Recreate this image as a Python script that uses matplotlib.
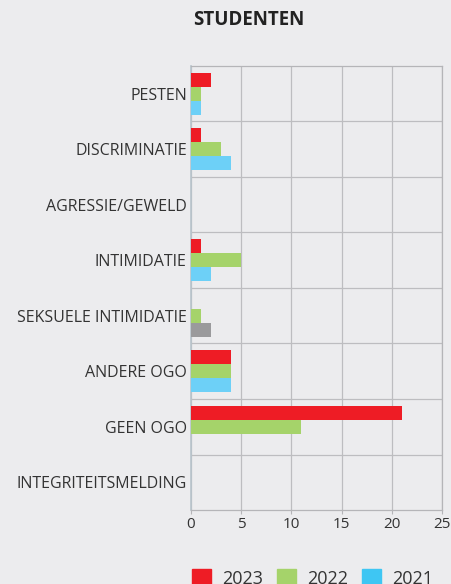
import numpy as np
import matplotlib
matplotlib.use("Agg")
from matplotlib import pyplot as plt
from matplotlib.patches import Rectangle

BG = "#ECECEE"
RED, GREEN, BLUE, GREY = "#EE1C25", "#A5D36A", "#6DD0F7", "#9A9A9C"
LEG_BLUE = "#3EC6F3"
FONT = ["Open Sans", "DejaVu Sans"]

categories = ["PESTEN", "DISCRIMINATIE", "AGRESSIE/GEWELD", "INTIMIDATIE",
              "SEKSUELE INTIMIDATIE", "ANDERE OGO", "GEEN OGO",
              "INTEGRITEITSMELDING"]
vals_2023 = [2, 1, 0, 1, 0, 4, 21, 0]
vals_2022 = [1, 3, 0, 5, 1, 4, 11, 0]
vals_2021 = [1, 4, 0, 2, 2, 4, 0, 0]
years = ["2023", "2022", "2021"]
x_ticks = [0, 5, 10, 15, 20, 25]

plt.rcParams["font.family"] = FONT

W, H = 452, 584
fig = plt.figure(figsize=(W / 100, H / 100), dpi=100, facecolor=BG)
ax = fig.add_axes([191 / W, 74 / H, 251 / W, 444 / H], facecolor=BG)

y = np.arange(len(categories))
h = 0.25
ax.barh(y - h, vals_2023, height=h, color=RED, zorder=3)
ax.barh(y, vals_2022, height=h, color=GREEN, zorder=3)
# the 2021 bar for seksuele intimidatie is shown in grey in the source
c21 = [GREY if c == "SEKSUELE INTIMIDATIE" else BLUE for c in categories]
ax.barh(y + h, vals_2021, height=h, color=c21, zorder=3)

ax.set_xlim(0, 25)
ax.set_ylim(len(categories) - 0.5, -0.5)
ax.set_xticks(x_ticks)
ax.set_xticklabels([str(t) for t in x_ticks], fontsize=11, color="#333333")
ax.set_yticks(y)
ax.set_yticklabels(categories, fontsize=11.5, color="#333333")
ax.set_yticks(np.arange(len(categories) - 1) + 0.5, minor=True)

ax.tick_params(axis="y", which="both", length=0, pad=3)
ax.tick_params(axis="x", length=3, color="#B5B5B8", pad=2)
ax.grid(axis="x", which="major", color="#BDBDC0", linewidth=0.9, zorder=0)
ax.grid(axis="y", which="minor", color="#BDBDC0", linewidth=0.9, zorder=0)

for s in ["top", "right", "bottom"]:
    ax.spines[s].set_color("#B5B5B8")
    ax.spines[s].set_linewidth(0.9)
ax.spines["left"].set_color("#B8C4CC")
ax.spines["left"].set_linewidth(1.2)

fig.text(248.5 / W, 1 - 20 / H, "STUDENTEN", ha="center", va="center",
         fontsize=13.5, fontweight="bold", color="#222222")

# legend, partly cut by the bottom edge like the source
leg_colors = [RED, GREEN, LEG_BLUE]
for i, (yr, col) in enumerate(zip(years, leg_colors)):
    x0 = 192 + i * 85
    fig.patches.append(Rectangle((x0 / W, 1 - 588 / H), 19 / W, 19 / H,
                                 transform=fig.transFigure, color=col))
    fig.text((x0 + 30) / W, 1 - 579 / H, yr, ha="left", va="center",
             fontsize=13, color="#333333")

fig.savefig("out.png", dpi=100, facecolor=BG)
